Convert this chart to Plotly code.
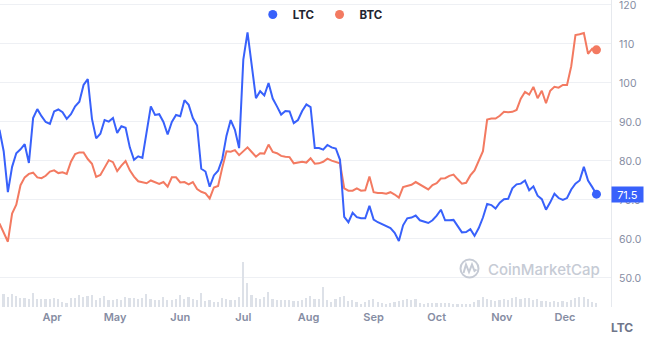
import pandas as pd
import plotly.graph_objects as go

# Two-day samples, 7 Mar 2023 - 16 Dec 2023
dates = pd.date_range("2023-03-07", periods=143, freq="2D")

ltc = [
    88, 82.5, 72, 78.5, 82, 83, 84.3, 79.5, 91, 93.3,
    91.5, 90, 89.5, 92.7, 93.2, 92.5, 90.8, 92, 94, 95.2,
    99.5, 101, 90.8, 85.8, 87, 90.5, 90.1, 91, 87.2, 88.9,
    88.5, 83.5, 80.3, 81.2, 80.8, 88, 94, 91.8, 92, 90,
    86.8, 90, 91.8, 91.5, 95.6, 94.4, 91, 89.1, 78, 77.3,
    73.4, 76.3, 77.5, 80.5, 86.5, 90.5, 88, 83.3, 106, 113,
    105, 96.1, 97.9, 96.8, 100, 96, 94, 91.9, 92.8, 92.7,
    89.7, 90.5, 92.8, 94.5, 93.8, 83.3, 83.3, 82.9, 84.1, 83.5,
    83.2, 80.3, 65.7, 64.3, 66.7, 65.6, 65.3, 65.3, 68.5, 65,
    64.3, 63.8, 63.4, 62.8, 61.6, 59.5, 63.5, 65.3, 65.5, 66,
    64.8, 64.4, 64.1, 64.8, 66, 67.5, 64.8, 64.8, 64.9, 63.3,
    61.7, 61.8, 62.5, 60.8, 62.8, 65.5, 69, 68.7, 67.8, 69.3,
    70.2, 70.3, 73, 74, 74.2, 75, 72.5, 73.5, 71.1, 70.2,
    67.5, 69.4, 71.6, 70.5, 70, 70.5, 72.7, 74.2, 75, 78.5,
    75, 73.3, 71.5,
]

# BTC rescaled onto the LTC price axis
btc = [
    64, 61.5, 59.3, 66.5, 68.8, 73.8, 75.8, 76.7, 77, 75.8,
    75.6, 76.2, 77.3, 77.6, 76.9, 77.1, 76.7, 79.8, 81.8, 82.2,
    82.2, 80.5, 79.3, 75.9, 76.4, 78.3, 80.2, 79.7, 77.4, 78.8,
    80, 77.6, 76, 74.8, 74.5, 74.3, 75, 74.6, 74.1, 74.6,
    73.4, 75.8, 75.8, 74.5, 74.6, 74, 74.6, 72.8, 72.1, 71.7,
    70.4, 73.2, 73.6, 78.3, 82.5, 82.4, 82.8, 81.5, 82.5, 83.5,
    82.3, 81.1, 82, 81.9, 84.2, 82.3, 82, 81.3, 81.1, 81,
    79.4, 79.6, 79.8, 79.6, 80.7, 79.3, 79.4, 79.8, 80.6, 80.1,
    79.8, 79.4, 73, 72.4, 72.4, 73, 72.4, 72.5, 76, 72,
    71.8, 71.8, 71.6, 72, 71.4, 70.6, 73.3, 73.6, 73.9, 74.6,
    73.9, 73.2, 72.7, 73.8, 74.3, 75.5, 75.6, 76.2, 76.5, 75.3,
    74.2, 74.4, 76.3, 77.6, 80, 82.5, 90.6, 90.9, 90.9, 91.6,
    92.6, 92.5, 92.6, 93.1, 96, 97.7, 97, 99, 96.1, 98,
    94.8, 98, 99, 98.8, 99.5, 99.5, 104.3, 112.3, 112.5, 112.8,
    107.5, 108.8, 108.5,
]

# Relative traded volume
volume_rel = [
    8, 13, 10, 13, 11, 9, 9, 8, 14, 8,
    8, 8, 8, 9, 8, 5, 4, 9, 9, 12,
    10, 11, 12, 7, 9, 11, 7, 7, 8, 7,
    10, 9, 9, 8, 9, 13, 8, 7, 7, 10,
    7, 7, 8, 12, 8, 10, 8, 7, 14, 6,
    7, 5, 5, 9, 8, 7, 7, 10, 45, 24,
    12, 9, 8, 10, 15, 8, 7, 7, 7, 7,
    6, 6, 7, 9, 11, 8, 8, 20, 7, 5,
    8, 10, 11, 6, 7, 5, 3, 5, 7, 8,
    5, 4, 3, 4, 5, 6, 7, 8, 7, 8,
    4, 3, 4, 4, 4, 4, 4, 4, 3, 3,
    3, 3, 3, 5, 7, 10, 8, 7, 6, 7,
    8, 7, 9, 10, 8, 9, 9, 7, 8, 6,
    6, 5, 6, 5, 6, 5, 7, 9, 10, 10,
    8, 5, 4,
]

price_ticks = [50, 60, 70, 80, 90, 100, 110, 120]
price_tick_text = ["50.0", "60.0", "70.0", "80.0", "90.0", "100", "110", "120"]

BLUE = "#3861fb"
RED = "#f37a61"
AXIS_GREY = "#868da3"

W, H = 660, 348
ML, MR, MT, MB = 0, 49, 0, 41
PW, PH = W - ML - MR, H - MT - MB


def px_x(x):
    return (x - ML) / PW


def px_y(y):
    return (H - MB - y) / PH


fig = go.Figure()

fig.add_trace(go.Bar(
    x=dates, y=volume_rel, yaxis="y2",
    marker=dict(color="#dde1e8", line=dict(width=0)),
    width=0.8 * 86400000, showlegend=False, hoverinfo="skip",
))

fig.add_trace(go.Scatter(
    x=dates, y=btc, mode="lines", line=dict(color=RED, width=2),
    showlegend=False, legendgroup="btc",
))
fig.add_trace(go.Scatter(
    x=dates, y=ltc, mode="lines", line=dict(color=BLUE, width=2),
    showlegend=False, legendgroup="ltc",
))

fig.add_trace(go.Scatter(
    x=[dates[-1]], y=[ltc[-1]], mode="markers", name="LTC",
    marker=dict(color=BLUE, size=9), legendgroup="ltc",
))
fig.add_trace(go.Scatter(
    x=[dates[-1]], y=[btc[-1]], mode="markers", name="BTC",
    marker=dict(color=RED, size=9), legendgroup="btc",
))

# CoinMarketCap watermark logo
cx, cy = 469.5, 268.5
logo_path = (
    f"M {px_x(463.5)} {px_y(273)} L {px_x(466)} {px_y(264.5)} "
    f"L {px_x(469)} {px_y(272)} L {px_x(472)} {px_y(264.5)} "
    f"L {px_x(474.5)} {px_y(271)} L {px_x(476.5)} {px_y(269.5)}"
)

fig.update_layout(
    width=W, height=H,
    margin=dict(l=ML, r=MR, t=MT, b=MB, pad=0),
    paper_bgcolor="white", plot_bgcolor="white",
    font=dict(family="Inter, Roboto, sans-serif"),
    bargap=0,
    legend=dict(
        orientation="h", x=0.525, xanchor="center", y=1.0, yanchor="top",
        font=dict(size=11.5, color="#222531", weight=700),
        bgcolor="rgba(0,0,0,0)", itemwidth=30, tracegroupgap=0,
    ),
    xaxis=dict(
        type="date",
        range=["2023-03-07 06:00", "2023-12-22 22:00"],
        tick0="2023-04-01", dtick="M1", tickformat="%b",
        showgrid=False, zeroline=False, showline=False, ticks="",
        tickfont=dict(size=11, color=AXIS_GREY, weight=600),
        ticklabelstandoff=2,
    ),
    yaxis=dict(
        side="right", range=[42.56, 121.28],
        tickvals=price_ticks, ticktext=price_tick_text,
        gridcolor="#eef0f4", gridwidth=1, zeroline=False,
        showline=True, linecolor="#e6e9ee", linewidth=1, ticks="",
        tickfont=dict(size=10.5, color=AXIS_GREY),
        ticklabelstandoff=5, ticklabeloverflow="allow",
    ),
    yaxis2=dict(
        overlaying="y", range=[0, PH], visible=False, showgrid=False,
    ),
    shapes=[
        dict(type="circle", xref="paper", yref="paper",
             x0=px_x(cx - 9), x1=px_x(cx + 9), y0=px_y(cy + 9), y1=px_y(cy - 9),
             line=dict(color="#c6cbd5", width=2)),
        dict(type="path", xref="paper", yref="paper", path=logo_path,
             line=dict(color="#c6cbd5", width=2)),
    ],
    annotations=[
        dict(xref="paper", yref="y", x=1, y=ltc[-1], xanchor="left",
             yanchor="middle", text=f"{ltc[-1]}", showarrow=False,
             bgcolor=BLUE, width=31, height=15, borderpad=0,
             font=dict(size=11, color="white")),
        dict(xref="paper", yref="paper", x=px_x(621.5), y=px_y(327),
             xanchor="center", yanchor="middle", text="LTC", showarrow=False,
             font=dict(size=12, color="#6f768a", weight=700)),
        dict(xref="paper", yref="paper", x=px_x(486), y=px_y(269),
             xanchor="left", yanchor="middle", text="CoinMarketCap",
             showarrow=False, font=dict(size=15, color="#c6cbd5", weight=500)),
    ],
)

fig.write_html("out.html")
